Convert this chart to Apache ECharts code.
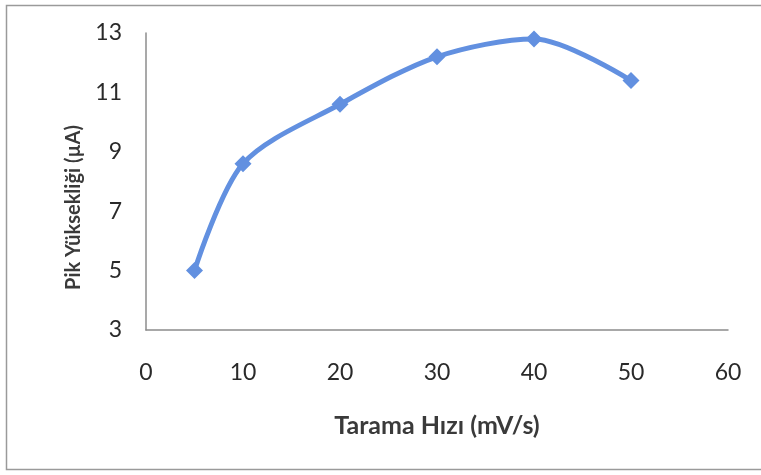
<!DOCTYPE html>
<html>
<head>
<meta charset="utf-8">
<script src="https://cdn.jsdelivr.net/npm/echarts@6/dist/echarts.min.js"></script>
<style>
  html, body { margin: 0; padding: 0; background: #fff; }
  #chart { width: 761px; height: 475px; }
</style>
</head>
<body>
<div id="chart"></div>
<script>
// Scan rate (mV/s) against peak height (µA)
const scanRates = [5, 10, 20, 30, 40, 50];
const peakHeights = [5.0, 8.6, 10.6, 12.2, 12.8, 11.4];
const xTicks = [0, 10, 20, 30, 40, 50, 60];
const yTicks = [3, 5, 7, 9, 11, 13];

const font = 'Lato, "Open Sans", sans-serif';
const chart = echarts.init(document.getElementById('chart'), null, { renderer: 'canvas' });

chart.setOption({
  animation: false,
  backgroundColor: '#ffffff',
  graphic: [{
    type: 'rect',
    shape: { x: 6.5, y: 5.5, width: 800, height: 464 },
    style: { fill: 'none', stroke: '#9a9a9a', lineWidth: 1.5 },
    silent: true
  }],
  grid: { left: 146, top: 33, right: 33, bottom: 145, containLabel: false },
  xAxis: {
    type: 'value',
    min: xTicks[0],
    max: xTicks[xTicks.length - 1],
    interval: 10,
    name: 'Tarama Hızı (mV/s)',
    nameLocation: 'middle',
    nameGap: 83,
    nameTextStyle: { fontFamily: font, fontSize: 25, fontWeight: 'bold', color: '#3a3a3a' },
    axisLine: { show: true, lineStyle: { color: '#8c8c8c', width: 1.5 } },
    axisTick: { show: false },
    splitLine: { show: false },
    axisLabel: { margin: 31, fontFamily: font, fontSize: 23, color: '#2a2a2a' }
  },
  yAxis: {
    type: 'value',
    min: yTicks[0],
    max: yTicks[yTicks.length - 1],
    interval: 2,
    name: 'Pik Yüksekliği (µA)',
    nameLocation: 'middle',
    nameGap: 62,
    nameTextStyle: { fontFamily: font, fontSize: 20, fontWeight: 'bold', color: '#3a3a3a', padding: [0, 52, 0, 0] },
    axisLine: { show: true, lineStyle: { color: '#8c8c8c', width: 1.5 } },
    axisTick: { show: false },
    splitLine: { show: false },
    axisLabel: { margin: 24, fontFamily: font, fontSize: 23, color: '#2a2a2a' }
  },
  series: [{
    type: 'line',
    data: scanRates.map((x, i) => [x, peakHeights[i]]),
    smooth: 0.3,
    symbol: 'diamond',
    symbolSize: 17,
    lineStyle: { color: '#6290e0', width: 5 },
    itemStyle: { color: '#6290e0' }
  }]
});
</script>
</body>
</html>
